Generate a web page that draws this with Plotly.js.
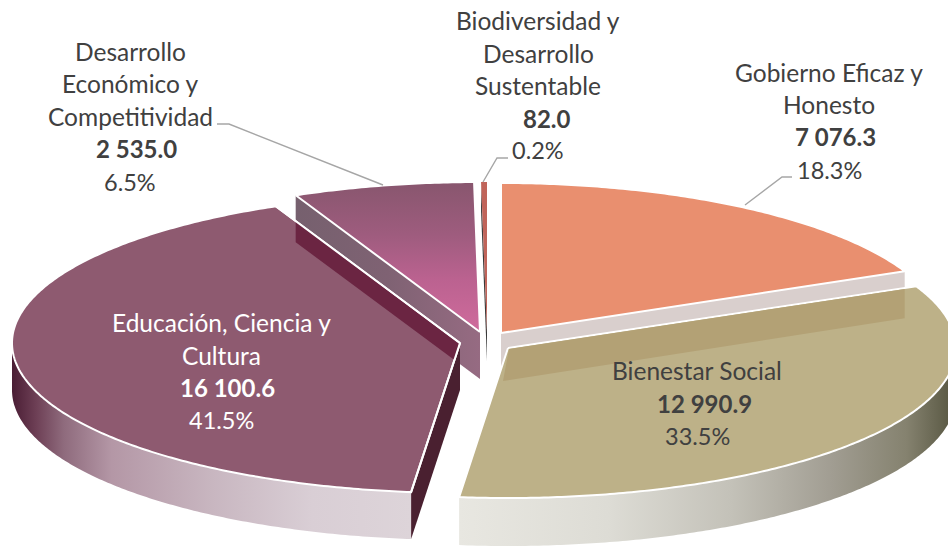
<!DOCTYPE html>
<html><head><meta charset="utf-8">
<script src="https://cdn.plot.ly/plotly-3.0.1.min.js"></script>
<style>html,body{margin:0;padding:0;background:#fff}#c{width:948px;height:547px}</style>
</head><body><div id="c"></div>
<script>
// DATA
var categories = ["Gobierno Eficaz y Honesto","Bienestar Social","Educación, Ciencia y Cultura","Desarrollo Económico y Competitividad","Biodiversidad y Desarrollo Sustentable"];
var amounts = [7076.3,12990.9,16100.6,2535.0,82.0];
var amountLabels = ["7 076.3","12 990.9","16 100.6","2 535.0","82.0"];
var shareLabels = ["18.3%","33.5%","41.5%","6.5%","0.2%"];
var nameLines = [["Gobierno Eficaz y","Honesto"],["Bienestar Social"],["Educación, Ciencia y","Cultura"],["Desarrollo","Económico y","Competitividad"],["Biodiversidad y","Desarrollo","Sustentable"]];

// STYLE / LAYOUT
var apexX=[501,508,460,480,487], apexY=[333,348,343,332,332];
var RX=[443,448,448,448,448], RY=150, DEPTH=47;
var faceColors=["#e98f6f","#bdb188","#8e5a70",null,"#c0645a"];
var W=948,H=547, PI=Math.PI;
var labelCx=[829,697,221,130,538], amountCx=[835,704,227,136,547];
var labelY=[[72,104,136,170],[370,403,436],[322,355,387,420],[51,83,116,148,182],[20,53,85,118,150]];
var textColors=["#404040","#404040","#ffffff","#404040","#404040"];

var total=amounts.reduce(function(a,b){return a+b;},0), cum=0;
var slices=amounts.map(function(v,i){
  var s=cum/total*2*PI; cum+=v; var e=cum/total*2*PI;
  return {s:s,e:e,i:i};
});
function pt(i,t,d){return [apexX[i]+RX[i]*Math.sin(t), apexY[i]-RY*Math.cos(t)+(d||0)];}
function arc(i,a,b,d){var n=Math.max(2,Math.ceil(Math.abs(b-a)/0.01)),o=[];for(var k=0;k<=n;k++)o.push(pt(i,a+(b-a)*k/n,d));return o;}
function poly(points,o){
  var p=points.concat([points[0]]);
  var t={type:"scatter",mode:"lines",x:p.map(function(q){return q[0];}),y:p.map(function(q){return q[1];}),
    fill:"toself",hoverinfo:"skip",showlegend:false,line:{width:o.lw||0,color:o.lc||"rgba(0,0,0,0)",simplify:false}};
  if(o.fill)t.fillcolor=o.fill;
  if(o.grad)t.fillgradient=o.grad;
  return t;
}
function line(pts,c,w){return {type:"scatter",mode:"lines",x:pts.map(function(q){return q[0];}),y:pts.map(function(q){return q[1];}),hoverinfo:"skip",showlegend:false,line:{color:c||"#a6a6a6",width:w||1.4}};}
function face(i){var S=slices[i];return [[apexX[i],apexY[i]]].concat(arc(i,S.s,S.e,0));}
function cross(a,b,c,d){var x1=a[0],y1=a[1],x2=b[0],y2=b[1],x3=c[0],y3=c[1],x4=d[0],y4=d[1];
  var den=(x1-x2)*(y3-y4)-(y1-y2)*(x3-x4),u=((x1-x3)*(y3-y4)-(y1-y3)*(x3-x4))/den;
  return [x1+u*(x2-x1),y1+u*(y2-y1)];}
var G=slices[0],B=slices[1],E=slices[2],D=slices[3],V=slices[4];
var traces=[];
// Gobierno cut wall
traces.push(poly([[apexX[0],apexY[0]],pt(0,G.e),pt(0,G.e,DEPTH),[apexX[0],apexY[0]+DEPTH]],{fill:"#d9cfcd"}));
// Bienestar outer wall
traces.push(poly(arc(1,B.e,PI/2,0).concat(arc(1,PI/2,B.e,DEPTH+1)),{grad:{type:"horizontal",colorscale:[[0,"#e8e7e1"],[0.3,"#dddcd5"],[0.55,"#c3c1b8"],[0.75,"#a19d92"],[0.9,"#85826f"],[1,"#55543f"]]}}));
// Bienestar face
traces.push(poly(face(1),{fill:faceColors[1],lw:2,lc:"#ffffff"}));
// Gobierno wall seen through the Bienestar face
var g1=[apexX[0]+2,apexY[0]+DEPTH+1], g2=pt(0,G.e,DEPTH), bA=[apexX[1]+1,apexY[1]+1], bE=pt(1,B.s,1);
traces.push(poly([bA,[g2[0],cross(bA,bE,[g2[0],0],[g2[0],547])[1]],g2,g1],{fill:"#b3a175"}));
// Gobierno face
traces.push(poly(face(0),{fill:faceColors[0],lw:2,lc:"#ffffff"}));
// Desarrollo cut wall and face
traces.push(poly([pt(3,D.s),[apexX[3],apexY[3]],[apexX[3],apexY[3]+DEPTH],pt(3,D.s,DEPTH)],{grad:{type:"horizontal",colorscale:[[0,"#76606e"],[0.5,"#7f6273"],[1,"#966b82"]]}}));
traces.push(poly(face(3),{grad:{type:"vertical",colorscale:[[0,"#cf6b9c"],[0.35,"#bb6290"],[0.65,"#9e5c7e"],[1,"#88566e"]]},lw:2,lc:"#ffffff"}));
// Biodiversidad wall and face
traces.push(poly([pt(4,V.s),[apexX[4],apexY[4]],[apexX[4],apexY[4]+DEPTH-18],pt(4,V.s,DEPTH-18)],{fill:"#3a3a3a"}));
traces.push(poly(face(4),{fill:faceColors[4]}));
// Educación outer wall, cut wall, face
traces.push(poly(arc(2,E.s,3*PI/2,0).concat(arc(2,3*PI/2,E.s,DEPTH)),{grad:{type:"horizontal",colorscale:[[0,"#4a1d34"],[0.06,"#6d3f55"],[0.13,"#8f6b7d"],[0.25,"#b497a6"],[0.5,"#c8b6c0"],[0.75,"#d9ced5"],[1,"#ddd4d9"]]}}));
traces.push(poly([[apexX[2],apexY[2]],pt(2,E.s),pt(2,E.s,DEPTH),[apexX[2],apexY[2]+DEPTH]],{fill:"#4a2030"}));
traces.push(poly(face(2),{fill:faceColors[2],lw:2,lc:"#ffffff"}));
// Desarrollo wall seen through the Educación face
var w1=pt(3,D.s,DEPTH), w2=[apexX[3],apexY[3]+DEPTH], e0=[apexX[2],apexY[2]], eS=pt(2,E.s), eE=pt(2,E.e);
var left=cross([w1[0],0],[w1[0],547],e0,eE), right=cross(w1,w2,e0,eS);
traces.push(poly([left,[e0[0]-1,e0[1]+1],right,w1],{fill:"#6b2542"}));
traces.push(line([eE,e0,eS],"#ffffff",2));
// Leader lines
traces.push(line([[217,124],[229,124],[383,185]]));
traces.push(line([[508,158],[497,158],[483,182]]));
traces.push(line([[792,177],[782,177],[745,205]]));

var annotations=[];
function addText(x,y,text,color,size,bold){annotations.push({xref:"x",yref:"y",x:x,y:y,text:bold?"<b>"+text+"</b>":text,showarrow:false,xanchor:"center",yanchor:"middle",font:{family:"Lato, Carlito, sans-serif",size:size,color:color}});}
categories.forEach(function(c,i){
  var n=nameLines[i].length;
  nameLines[i].forEach(function(l,k){addText(labelCx[i],labelY[i][k],l,textColors[i],24.5);});
  addText(amountCx[i],labelY[i][n],amountLabels[i],textColors[i],24,true);
  addText(labelCx[i],labelY[i][n+1],shareLabels[i],textColors[i],23.5);
});

Plotly.newPlot("c",traces,{
  width:W,height:H,margin:{l:0,r:0,t:0,b:0},paper_bgcolor:"#fff",plot_bgcolor:"#fff",showlegend:false,
  xaxis:{range:[0,W],visible:false,fixedrange:true},
  yaxis:{range:[H,0],visible:false,fixedrange:true},
  annotations:annotations
},{displayModeBar:false,staticPlot:true});
</script></body></html>
